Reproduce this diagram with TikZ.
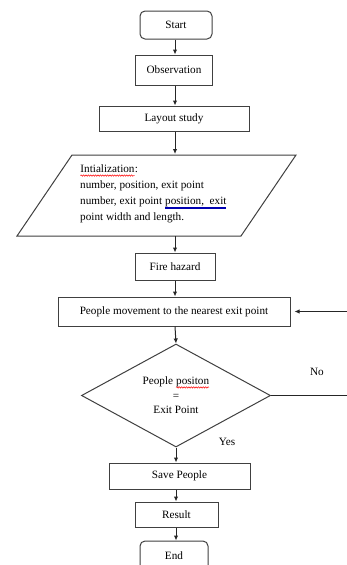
\documentclass[tikz,border=0pt]{standalone}
\usepackage{fontspec}
\setmainfont{Liberation Serif}
\usetikzlibrary{shapes.geometric,arrows.meta,decorations.pathmorphing}
\tikzset{inword/.style={rectangle, inner sep=0pt, outer sep=0pt, draw=none, fill=none, minimum width=0pt, minimum height=0pt, anchor=base}}
\newcommand\redwave[1]{\tikz[baseline=(wv.base)]{\node[inword] (wv) {#1};
  \draw[red, line width=0.5pt, decorate, decoration={snake,amplitude=0.7pt,segment length=2.4pt}]
    ([yshift=-2.6pt]wv.base west) -- ([yshift=-2.6pt]wv.base east);}}
\newcommand\bluedbl[1]{\tikz[baseline=(wb.base)]{\node[inword] (wb) {#1};
  \draw[blue!70!black, line width=0.4pt] ([yshift=-2pt]wb.base west) -- ([yshift=-2pt]wb.base east)
    ([yshift=-3.4pt]wb.base west) -- ([yshift=-3.4pt]wb.base east);}}
\tikzset{
  box/.style={draw=black!75, rectangle, inner sep=0pt, text=black},
  rbox/.style={box, rounded corners=5pt},
  arr/.style={draw=black!85, -{Latex[length=5pt,width=4.5pt]}},
  lbl/.style={inner sep=0pt, text=black}
}
\begin{document}
\begin{tikzpicture}[x=1pt,y=-1pt, line width=1pt, font=\fontsize{11.2}{13}\selectfont]
\useasboundingbox (0,0) rectangle (347,565);
\clip (0,0) rectangle (347,565);
\fill[white] (0,0) rectangle (347,565);
% nodes
\node[rbox, minimum width=72pt, minimum height=28pt] (start) at (176,25) {Start};
\node[box, minimum width=77pt, minimum height=30pt] (obs) at (174,70) {Observation};
\node[box, minimum width=150pt, minimum height=25pt] (lay) at (174,118.5) {Layout study};
% parallelogram
\draw[draw=black!75] (72,155) -- (296,155) -- (241,236) -- (17,236) -- cycle;
\coordinate (initT) at (175,155);
\coordinate (initB) at (175,236);
\node[lbl, align=left, anchor=north west, font=\fontsize{11.2}{16}\selectfont] (init) at (80,165)
  {\redwave{Intialization}:\\number, position, exit point\\number, exit point \bluedbl{position,\ \ exit}\\point width and length.};
\node[draw=black!75, diamond, inner sep=0pt, minimum width=189pt, minimum height=103pt] (dec) at (176,395.5) {};
\node[lbl, align=center, font=\fontsize{11.2}{14.5}\selectfont] (dectext) at (176,395.5) {People \redwave{positon}\\=\\Exit Point};
\node[box, minimum width=80pt, minimum height=27pt] (fire) at (175,266.5) {Fire hazard};
\node[box, minimum width=232pt, minimum height=29pt] (move) at (174,311.5) {People movement to the nearest exit point};
\node[box, minimum width=141pt, minimum height=26pt] (save) at (179.5,476) {Save People};
\node[box, minimum width=83pt, minimum height=25pt] (res) at (176.5,514.5) {Result};
\node[rbox, minimum width=68pt, minimum height=30pt] (end) at (174,556) {End};
% labels
\node[lbl] (no) at (317,372) {No};
\node[lbl] (yes) at (227,442) {Yes};
% connectors
\draw[arr] (175,0 |- start.south) -- (175,0 |- obs.north);
\draw[arr] (175,0 |- obs.south) -- (175,0 |- lay.north);
\draw[arr] (175,0 |- lay.south) -- ([yshift=1pt]initT);
\draw[arr] (initB) -- (initB |- fire.north);
\draw[arr] (175,0 |- fire.south) -- (175,0 |- move.north);
\draw[arr] (175,0 |- move.south) -- (dec.north);
\draw[arr] (dec.south) -- (dec.south |- save.north);
\draw[arr] (176,0 |- save.south) -- (176,0 |- res.north);
\draw[arr] (176,0 |- res.south) -- (176,0 |- end.north);
\draw[arr] (dec.east) -- (356,395.5) |- ([xshift=4pt]move.east);
\end{tikzpicture}
\end{document}
